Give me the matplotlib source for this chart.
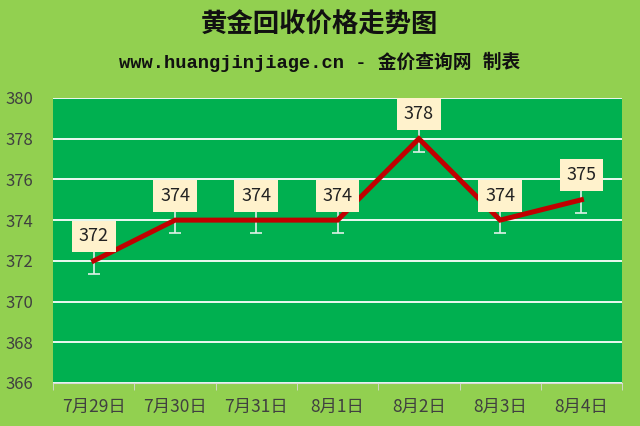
import matplotlib.pyplot as plt

dates = ["7月29日", "7月30日", "7月31日", "8月1日", "8月2日", "8月3日", "8月4日"]
prices = [372, 374, 374, 374, 378, 374, 375]
err = [0.65] * len(prices)

plt.rcParams['font.family'] = ['Noto Sans CJK SC', 'DejaVu Sans']

fig = plt.figure(figsize=(6.4, 4.26), dpi=100)
fig.patch.set_facecolor('#92d050')
ax = fig.add_axes([0.083, 0.101, 0.889, 0.669])
ax.set_facecolor('#00b050')

x = list(range(len(dates)))
ax.errorbar(x, prices, yerr=err, fmt='none', ecolor='#dff0e8', elinewidth=1.2,
            capsize=4, capthick=1.2, zorder=3)
ax.plot(x, prices, color='#c00000', lw=3.6, zorder=4, solid_joinstyle='miter')

for xi, p in zip(x, prices):
    ax.text(xi, p + 1.2, str(p), ha='center', va='center', fontsize=13,
            color='#222222', zorder=5,
            bbox=dict(boxstyle='square,pad=0.38', fc='#fff2cc', ec='none'))

ax.set_ylim(366, 380)
ax.set_yticks(range(366, 381, 2))
ax.set_xlim(-0.5, len(dates) - 0.5)
ax.set_xticks(x)
ax.set_xticklabels(dates, fontsize=12.5, color='#404040')
ax.set_xticks([i - 0.5 for i in range(len(dates) + 1)], minor=True)
ax.tick_params(axis='x', which='major', length=0, pad=11)
ax.tick_params(axis='x', which='minor', length=5, color='#d9d9d9', direction='out')
ax.tick_params(axis='y', length=0, labelsize=12, labelcolor='#404040', pad=14)
ax.grid(axis='y', color='white', lw=1.3, zorder=1)
ax.set_axisbelow(True)
for s in ['top', 'right', 'left']:
    ax.spines[s].set_visible(False)
ax.spines['bottom'].set_color('#d9d9d9')

fig.text(0.5, 0.94, "黄金回收价格走势图", ha='center', va='center',
         fontsize=19, fontweight='bold', color='#111111')
fig.text(0.5, 0.855, "www.huangjinjiage.cn - 金价查询网 制表", ha='center', va='center',
         fontsize=13.5, fontweight='bold', color='#111111',
         family=['Liberation Mono', 'Noto Sans CJK SC'])

fig.savefig('out.png', dpi=100, facecolor=fig.get_facecolor())
